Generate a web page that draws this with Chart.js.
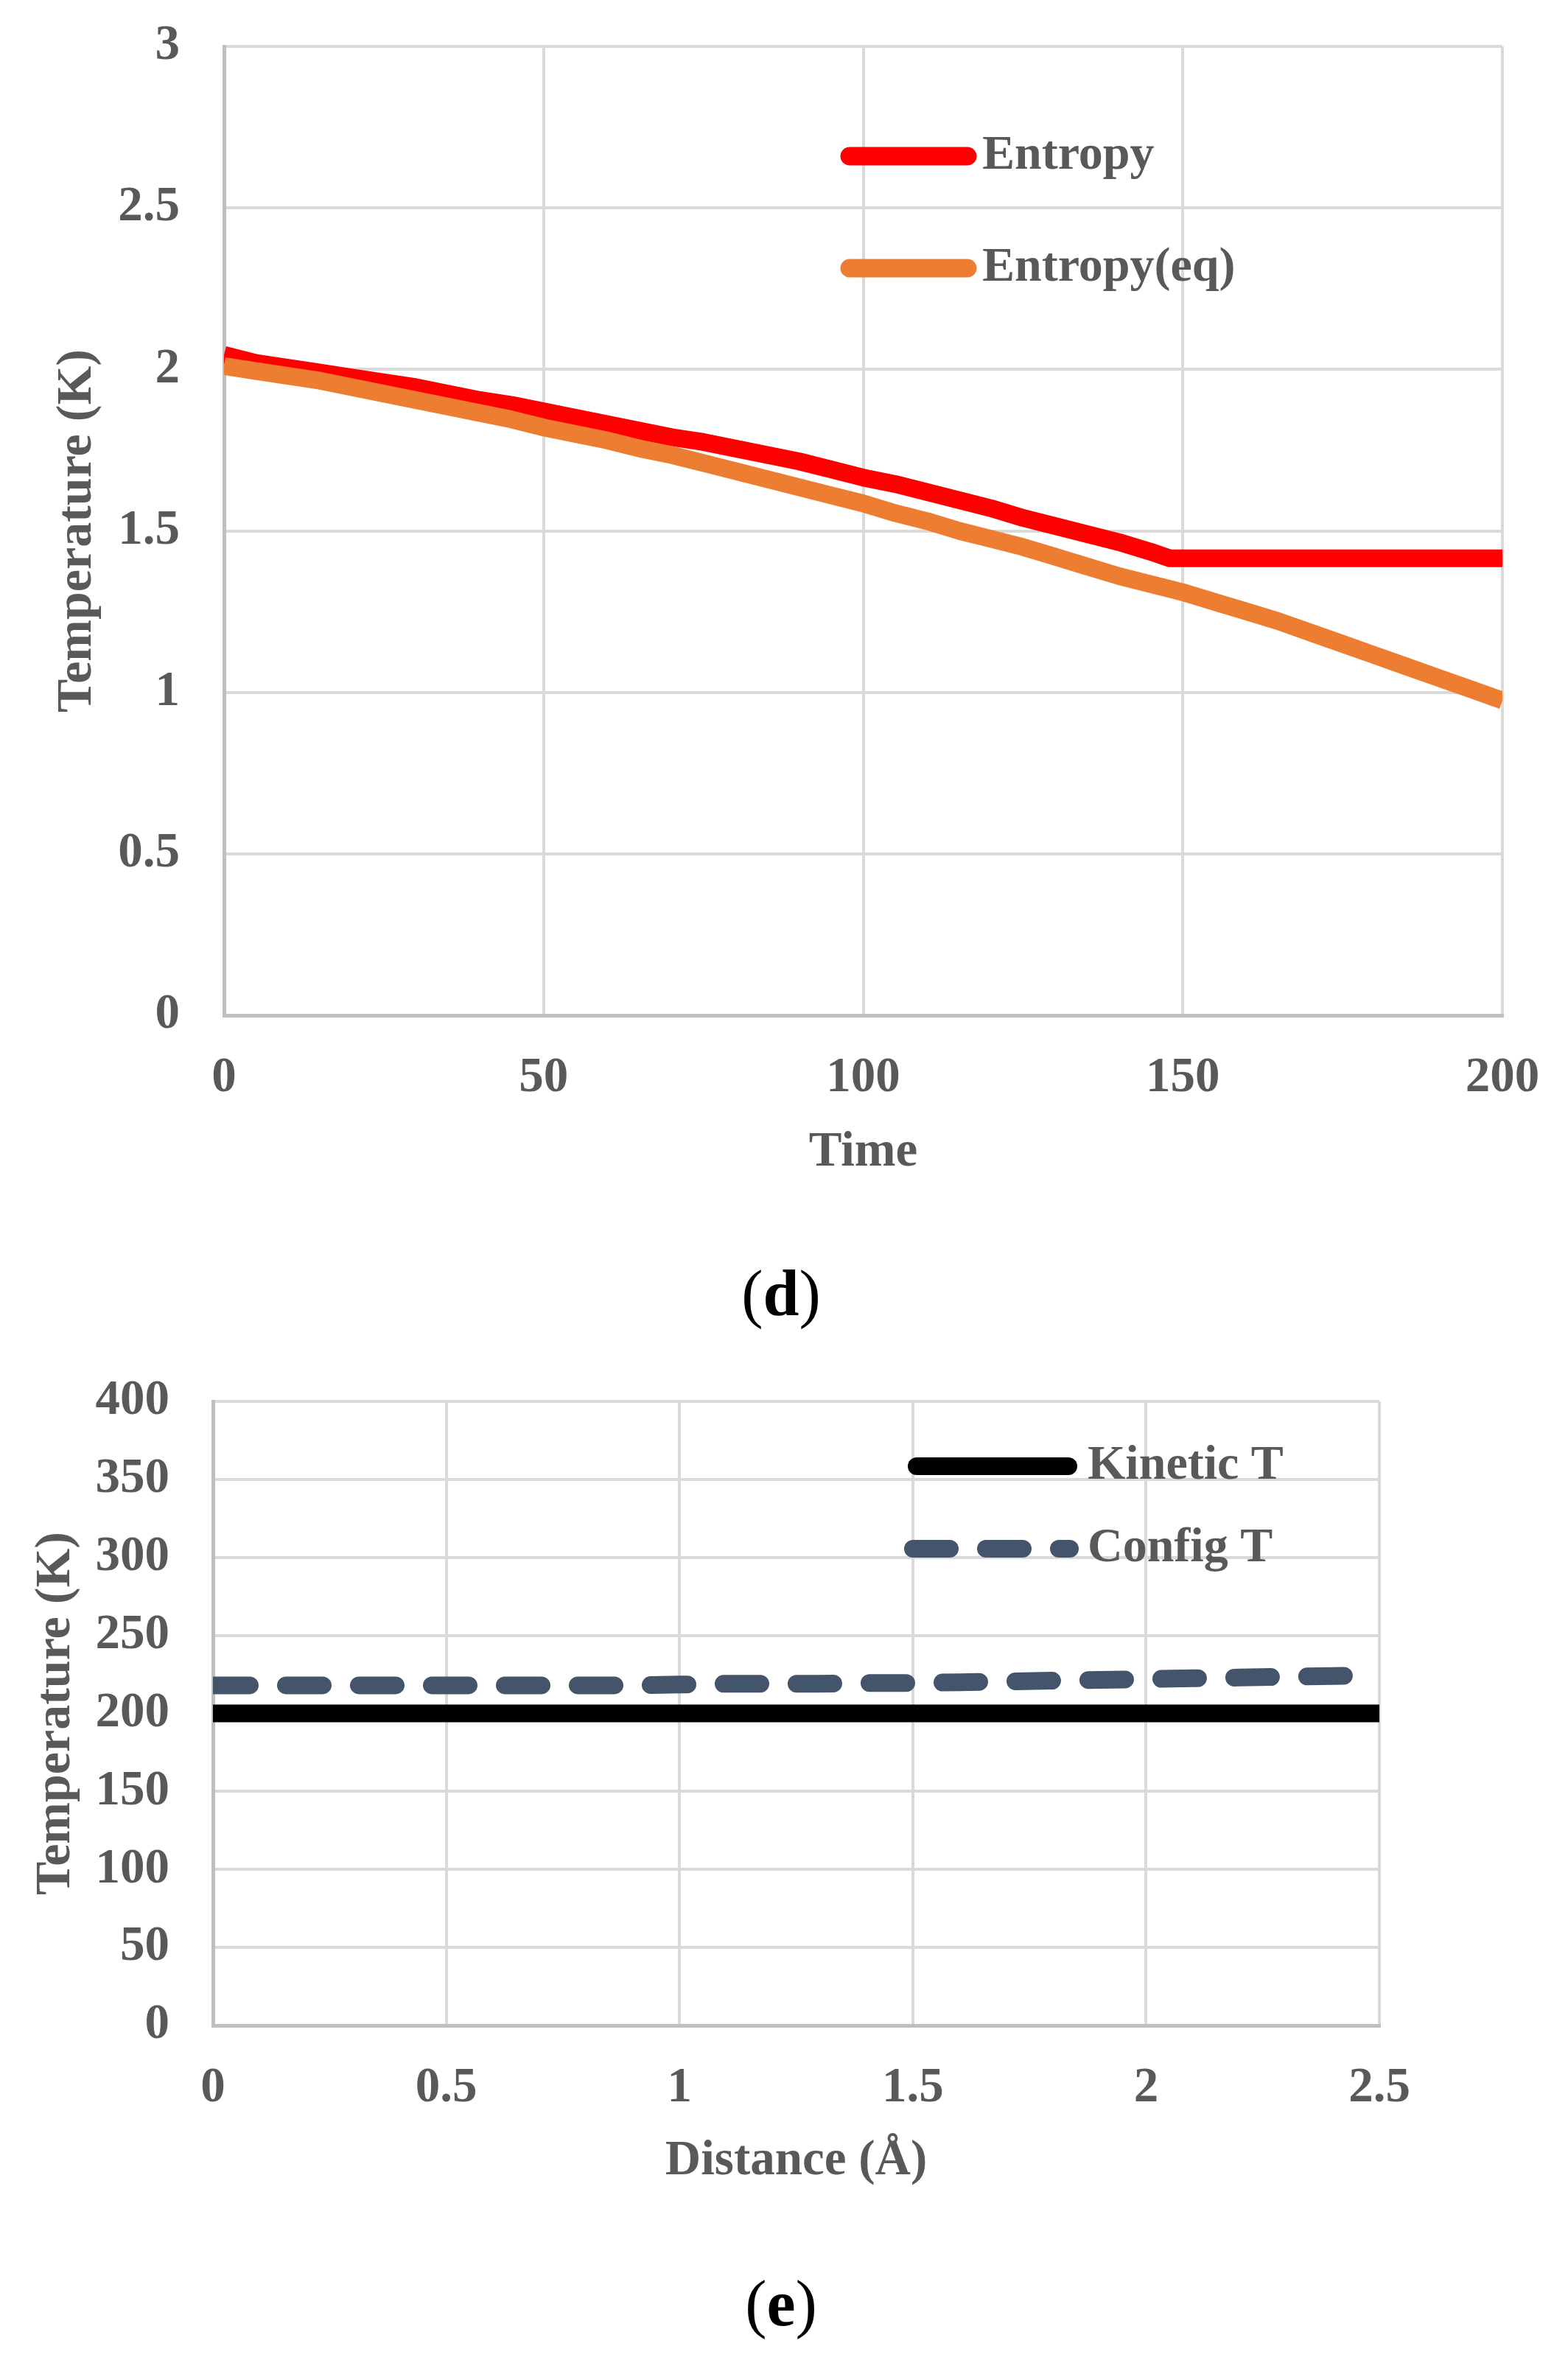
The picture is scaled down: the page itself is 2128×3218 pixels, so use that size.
<!DOCTYPE html>
<html>
<head>
<meta charset="utf-8">
<script src="https://cdn.jsdelivr.net/npm/chart.js@4.4.1/dist/chart.umd.min.js"></script>
<style>
html,body{margin:0;padding:0;background:#fff;}
body{width:2128px;height:3218px;position:relative;overflow:hidden;}
canvas{position:absolute;left:0;}
.cap{position:absolute;left:0;width:2120px;text-align:center;font-family:'Liberation Serif','Times New Roman',serif;font-size:88px;line-height:1;color:#000;}
</style>
</head>
<body>
<canvas id="cd" width="2128" height="1650" style="top:0px;width:2128px;height:1650px"></canvas>
<canvas id="ce" width="2128" height="1200" style="top:1800px;width:2128px;height:1200px"></canvas>
<div class="cap" style="top:1712px">(<b>d</b>)</div>
<div class="cap" style="top:3083px">(<b>e</b>)</div>
<script>
// ---------- Data: panel (d) ----------
const timeD = [0,5,10,15,20,25,30,35,40,45,50,55,60,65,70,75,80,85,90,95,100,105,110,115,120,125,130,135,140,145,148,150,155,160,165,170,175,180,185,190,195,200];
const entropy = [2.045,2.02,2.005,1.99,1.975,1.96,1.945,1.925,1.905,1.89,1.87,1.85,1.83,1.81,1.79,1.775,1.755,1.735,1.715,1.69,1.665,1.645,1.62,1.595,1.57,1.54,1.515,1.49,1.465,1.435,1.415,1.415,1.415,1.415,1.415,1.415,1.415,1.415,1.415,1.415,1.415,1.415];
const entropyEq = [2.01,1.995,1.98,1.965,1.945,1.925,1.905,1.885,1.865,1.845,1.82,1.80,1.78,1.755,1.735,1.71,1.685,1.66,1.635,1.61,1.585,1.555,1.53,1.50,1.475,1.45,1.42,1.39,1.36,1.335,1.32,1.31,1.28,1.25,1.22,1.185,1.15,1.115,1.08,1.045,1.01,0.975];
const yTicksD = [0,0.5,1,1.5,2,2.5,3];
const yLabelsD = ['0','0.5','1','1.5','2','2.5','3'];
const xTicksD = [0,50,100,150,200];
const xLabelsD = ['0','50','100','150','200'];

// ---------- Data: panel (e) ----------
const distE = [0,0.1,0.2,0.3,0.4,0.5,0.6,0.7,0.8,0.9,1.0,1.1,1.2,1.3,1.4,1.5,1.6,1.7,1.8,1.9,2.0,2.1,2.2,2.3,2.4,2.5];
const kineticT = [200,200,200,200,200,200,200,200,200,200,200,200,200,200,200,200,200,200,200,200,200,200,200,200,200,200];
const configT = [218,218,218,218,218,218,218,218,218,218,218.5,219,219,219,219.5,219.5,220,220.5,221,221.5,222,222.5,223,223.5,224,224.5];
const yTicksE = [0,50,100,150,200,250,300,350,400];
const yLabelsE = ['0','50','100','150','200','250','300','350','400'];
const xTicksE = [0,0.5,1,1.5,2,2.5];
const xLabelsE = ['0','0.5','1','1.5','2','2.5'];

const FONT = "'Liberation Serif','Times New Roman',serif";
const TXT = '#595959';

function pts(xs, ys){ return xs.map((x,i)=>({x:x, y:ys[i]})); }

function axis(min, max, ticks, labels, fit, tickPad, title, titlePad, titleSize){
  return {
    type: 'linear', min: min, max: max,
    afterBuildTicks: s => { s.ticks = ticks.map(v => ({value: v})); },
    afterFit: s => {
      if (fit.width !== undefined) s.width = fit.width;
      if (fit.height !== undefined) s.height = fit.height;
      s.paddingLeft = 0; s.paddingRight = 0; s.paddingTop = 0; s.paddingBottom = 0;
    },
    ticks: {
      autoSkip: false, maxRotation: 0, minRotation: 0, padding: tickPad, color: TXT,
      font: {family: FONT, weight: 'bold', size: 67},
      callback: (v) => labels[ticks.indexOf(v)]
    },
    grid: {color: '#D9D9D9', lineWidth: 4, drawTicks: false},
    border: {color: '#BFBFBF', width: 5},
    title: {display: true, text: title, color: TXT, font: {family: FONT, weight: 'bold', size: titleSize}, padding: titlePad}
  };
}

const inlineLegend = {
  id: 'inlineLegend',
  afterDatasetsDraw(chart, args, opts) {
    const ctx = chart.ctx;
    ctx.save();
    chart.data.datasets.forEach((ds, i) => {
      const it = opts.items[i];
      ctx.beginPath();
      ctx.lineWidth = opts.lineWidth;
      ctx.strokeStyle = ds.borderColor;
      ctx.lineCap = 'round';
      ctx.setLineDash(ds.borderDash || []);
      ctx.moveTo(it.x1, it.y);
      ctx.lineTo(it.x2, it.y);
      ctx.stroke();
      ctx.setLineDash([]);
      ctx.fillStyle = TXT;
      ctx.font = 'bold ' + opts.fontSize + 'px ' + FONT;
      ctx.textBaseline = 'middle';
      ctx.textAlign = 'left';
      ctx.fillText(ds.label, opts.textX, it.y);
    });
    ctx.restore();
  }
};

new Chart(document.getElementById('cd'), {
  type: 'line',
  data: {
    datasets: [
      {label: 'Entropy', data: pts(timeD, entropy), borderColor: '#FF0000', borderWidth: 24, pointRadius: 0, tension: 0, order: 2, borderJoinStyle: 'round'},
      {label: 'Entropy(eq)', data: pts(timeD, entropyEq), borderColor: '#ED7D31', borderWidth: 24, pointRadius: 0, tension: 0, order: 1, borderJoinStyle: 'round'}
    ]
  },
  options: {
    responsive: false, animation: false, devicePixelRatio: 1,
    layout: {padding: {left: 0, top: 63, right: 89, bottom: 0}},
    plugins: {
      legend: {display: false}, tooltip: {enabled: false},
      inlineLegend: {lineWidth: 25, fontSize: 66, textX: 1333, items: [{x1: 1153, x2: 1313, y: 212}, {x1: 1153, x2: 1313, y: 364}]}
    },
    scales: {
      x: axis(0, 200, xTicksD, xLabelsD, {height: 272}, 45.8, 'Time', {top: 0, bottom: 44.8}, 67),
      y: axis(0, 3, yTicksD, yLabelsD, {width: 304}, 60, 'Temperature (K)', {top: 64.8, bottom: 0}, 68)
    }
  },
  plugins: [inlineLegend]
});

new Chart(document.getElementById('ce'), {
  type: 'line',
  data: {
    datasets: [
      {label: 'Kinetic T', data: pts(distE, kineticT), borderColor: '#000000', borderWidth: 24, pointRadius: 0, tension: 0, borderCapStyle: 'butt', clip: 0},
      {label: 'Config T', data: pts(distE, configT), borderColor: '#44546A', borderWidth: 24, pointRadius: 0, tension: 0, borderCapStyle: 'round', borderDash: [50, 49], clip: 0}
    ]
  },
  options: {
    responsive: false, animation: false, devicePixelRatio: 1,
    layout: {padding: {left: 0, top: 102, right: 256, bottom: 0}},
    plugins: {
      legend: {display: false}, tooltip: {enabled: false},
      inlineLegend: {lineWidth: 24, fontSize: 66, textX: 1476, items: [{x1: 1244, x2: 1450, y: 190}, {x1: 1239, x2: 1452, y: 302}]}
    },
    scales: {
      x: axis(0, 2.5, xTicksE, xLabelsE, {height: 251}, 45.8, 'Distance (Å)', {top: 0, bottom: 25.8}, 67),
      y: axis(0, 400, yTicksE, yLabelsE, {width: 289}, 59, 'Temperature (K)', {top: 35.3, bottom: 0}, 68)
    }
  },
  plugins: [inlineLegend]
});
</script>
</body>
</html>
